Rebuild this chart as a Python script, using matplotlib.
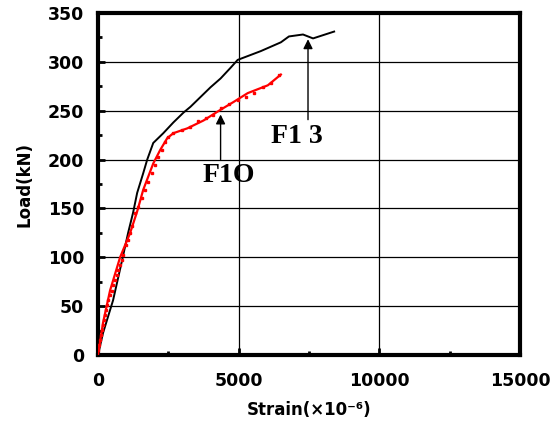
import matplotlib
matplotlib.use("Agg")
import matplotlib.pyplot as plt
from matplotlib.ticker import MultipleLocator

# F13 (black)
f13_strain = [0, 179, 536, 857, 1071, 1250, 1393, 1607, 1750, 1964, 2321, 2679, 3036,
              3286, 3643, 4000, 4357, 4714, 4964, 5786, 6500, 6786, 7286, 7643, 8393]
f13_load = [0, 22.5, 56, 97, 125, 146, 166, 186, 200, 217, 227, 238, 248,
            254, 264, 274, 283, 294, 302, 311, 320, 326, 328, 324, 331]

# F10 (red line)
f10_strain = [0, 179, 429, 786, 1143, 1393, 1607, 1964, 2214, 2464, 2679, 3179, 3750,
              4357, 4821, 5321, 6036, 6500]
f10_load = [0, 33, 66, 100, 125, 147, 169, 196, 210, 222, 227, 232, 240,
            251, 259, 268, 276, 287]

# F10 measured points (red dots)
f10_pts_strain = [12, 46, 71, 107, 132, 168, 214, 250, 286, 332, 368, 429, 489, 546,
                  607, 668, 725, 786, 846, 893, 1000, 1071, 1143, 1214, 1321, 1429,
                  1571, 1679, 1786, 1929, 2036, 2143, 2286, 2393, 2500, 2679, 3000,
                  3286, 3571, 3821, 4071, 4357, 4643, 4964, 5250, 5536, 5857, 6143, 6450]
f10_pts_load = [5, 10, 15, 20, 26, 31, 36, 41, 46, 51, 56, 61, 66, 72,
                77, 82, 87, 92, 97, 102, 113, 118, 125, 132, 145, 151,
                161, 169, 177, 186, 194, 203, 210, 218, 223, 227, 230,
                233, 239, 243, 246, 253, 257, 261, 264, 268, 274, 278, 287]

labels = ["F1O", "F1 3"]

fig = plt.figure(figsize=(5.58, 4.42), dpi=100)
ax = fig.add_axes([0.1756, 0.1968, 0.932 - 0.1756, 0.9706 - 0.1968])

ax.plot(f13_strain, f13_load, color="black", lw=1.4, zorder=3)
ax.plot(f10_strain, f10_load, color="red", lw=1.6, zorder=3)
ax.plot(f10_pts_strain, f10_pts_load, color="red", lw=0, marker="s", ms=2.0, zorder=3)

ax.set_xlim(0, 15000)
ax.set_ylim(0, 350)
ax.xaxis.set_major_locator(MultipleLocator(5000))
ax.xaxis.set_minor_locator(MultipleLocator(2500))
ax.yaxis.set_major_locator(MultipleLocator(50))
ax.yaxis.set_minor_locator(MultipleLocator(25))
ax.grid(True, which="major", color="black", lw=0.9)
ax.set_axisbelow(True)
for s in ax.spines.values():
    s.set_linewidth(3)
ax.tick_params(which="both", direction="in", width=2, labelsize=12.5)
ax.tick_params(which="major", length=5)
ax.tick_params(which="minor", length=3)
ax.tick_params(axis="x", pad=12)
ax.tick_params(axis="y", pad=10)
for lab in ax.get_xticklabels() + ax.get_yticklabels():
    lab.set_fontweight("bold")

ax.set_xlabel("Strain(×10⁻⁶)", fontsize=12, fontweight="bold", labelpad=8)
ax.set_ylabel("Load(kN)", fontsize=12, fontweight="bold", labelpad=10)

ax.annotate("", xy=(4357, 249), xytext=(4357, 197),
            arrowprops=dict(arrowstyle="-|>", color="black", lw=1.0, mutation_scale=14))
ax.text(4643, 184, labels[0], fontsize=20, fontweight="bold", family="Liberation Serif",
        ha="center", va="center")
ax.annotate("", xy=(7464, 326), xytext=(7464, 238),
            arrowprops=dict(arrowstyle="-|>", color="black", lw=1.0, mutation_scale=14))
ax.text(7071, 224, labels[1], fontsize=20, fontweight="bold", family="Liberation Serif",
        ha="center", va="center")

fig.savefig("out.png", dpi=100)
